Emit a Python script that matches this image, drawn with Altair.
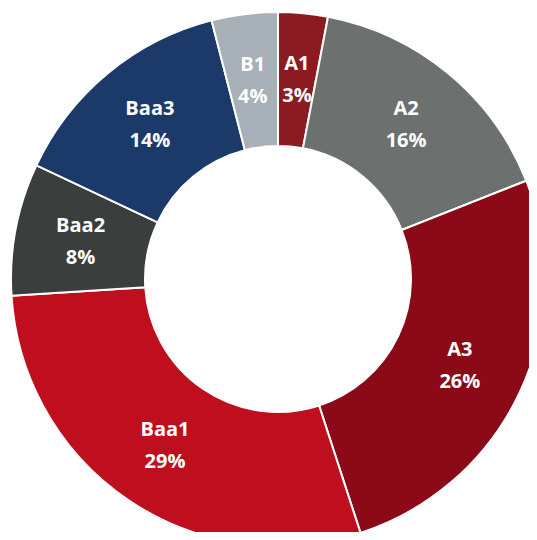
import altair as alt
import pandas as pd

labels = ["A1", "A2", "A3", "Baa1", "Baa2", "Baa3", "B1"]
values = [3, 16, 26, 29, 8, 14, 4]
colors = ["#8B1B20", "#6C706F", "#8C0A17", "#BF0E1E", "#3A3E3C", "#1B3A6A", "#A7AFB7"]

df = pd.DataFrame({
    "label": labels,
    "value": values,
    "order": list(range(len(labels))),
})
df["text"] = [f"{l}\n{v}%" for l, v in zip(labels, values)]

base = alt.Chart(df).encode(
    theta=alt.Theta("value:Q", stack=True),
    order=alt.Order("order:Q"),
    x=alt.value(270),
    y=alt.value(271),
)

arcs = base.mark_arc(innerRadius=133, outerRadius=267, stroke="white", strokeWidth=2).encode(
    color=alt.Color("label:N", scale=alt.Scale(domain=labels, range=colors), legend=None)
)

text = base.mark_text(
    radius=201, fontSize=20, fontWeight="bold", font="Open Sans", color="white",
    lineBreak="\n", lineHeight=32, baseline="middle", align="center", dy=-15
).encode(text="text:N")

chart = alt.layer(arcs, text).properties(
    width=521, height=524, autosize="none", padding=0
).configure_view(stroke=None)

chart.save("out.html", embed_options={"renderer": "svg", "actions": False})
